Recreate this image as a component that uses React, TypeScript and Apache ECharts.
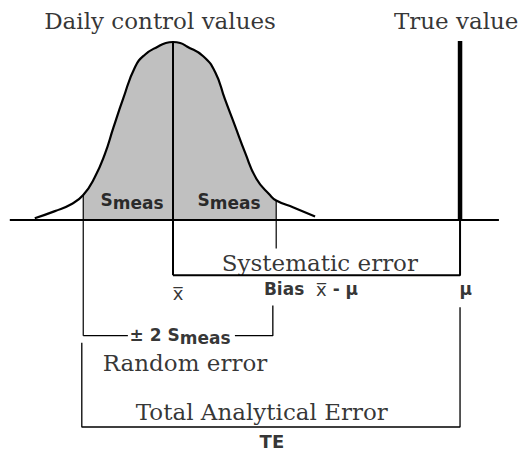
import React, { useEffect, useRef } from "react";
import * as echarts from "echarts";

// Normal curve of daily control values
// x: distance from the mean in s_meas units, y: relative height (peak = 1)
const curveX = [-2.88, -2.46, -2.11, -1.87, -1.63, -1.42, -1.24, -1.04, -0.79, -0.58, -0.31, -0.15, 0, 0.15, 0.29, 0.63, 0.88, 1.08, 1.29, 1.5, 1.74, 2.02, 2.15, 2.51, 2.96];
const curveY = [0.01, 0.05, 0.09, 0.14, 0.24, 0.37, 0.52, 0.68, 0.86, 0.93, 0.975, 0.994, 1.0, 0.994, 0.975, 0.92, 0.83, 0.68, 0.53, 0.38, 0.23, 0.14, 0.11, 0.07, 0.02];

// key x positions (s_meas units)
const meanX = 0;
const lowerX = -1.87;
const upperX = 2.15;
const trueX = 5.98;
const axisStart = -3.4;
const axisEnd = 6.79;
const randLeftEnd = -0.94;
const randRightStart = 1.29;
const randRightX = 2.08;
const totalLeftX = -1.9;

// bracket levels (relative height units, below the axis)
const trueTop = 1.006;
const sysLevel = -0.31;
const upperSdEnd = -0.16;
const randLevel = -0.65;
const randTop = -0.48;
const totalTop = -0.69;
const totalLevel = -1.163;
const totalRightTop = -0.49;

const serifTexts = ["Daily control values", "True value", "Systematic error", "Random error", "Total Analytical Error"];
const serifAt = [[-0.27, 1.12], [5.9, 1.12], [3.06, -0.24], [0.25, -0.805], [1.85, -1.08]];

const X_BAR = "x\u0305";
const sansTexts = ["{s|S}{m|meas}", "{s|S}{m|meas}", "{s|± 2 S}{m|meas}", "{s|Bias  }{x|" + X_BAR + "}{s| - μ}", "{x|" + X_BAR + "}", "{s|μ}", "{t|TE}"];
const sansAt = [[-0.854, 0.11], [1.167, 0.11], [0.146, -0.645], [2.875, -0.385], [0.104, -0.41], [6.1, -0.385], [2.06, -1.242]];

export default function App() {
  const ref = useRef<HTMLDivElement>(null);
  useEffect(() => {
    if (!ref.current) return;
    const chart = echarts.init(ref.current, null, { renderer: "svg" });
    const curveData = curveX.map((x, i) => [x, curveY[i]]);
    const shadeData = curveData.filter((p) => p[0] >= lowerX && p[0] <= upperX);

    const segments: { pts: number[][]; w: number }[] = [
      { pts: [[axisStart, 0], [axisEnd, 0]], w: 2 },
      { pts: [[meanX, 1.0], [meanX, sysLevel]], w: 2 },
      { pts: [[trueX, trueTop], [trueX, 0]], w: 4.5 },
      { pts: [[meanX, sysLevel], [trueX, sysLevel], [trueX, 0]], w: 2 },
      { pts: [[lowerX, curveY[curveX.indexOf(lowerX)]], [lowerX, randLevel]], w: 1.2 },
      { pts: [[upperX, curveY[curveX.indexOf(upperX)]], [upperX, upperSdEnd]], w: 1.2 },
      { pts: [[lowerX, randLevel], [randLeftEnd, randLevel]], w: 1.3 },
      { pts: [[randRightStart, randLevel], [randRightX, randLevel], [randRightX, randTop]], w: 1.3 },
      { pts: [[totalLeftX, totalTop], [totalLeftX, totalLevel], [trueX, totalLevel], [trueX, totalRightTop]], w: 1.3 },
    ];

    const sansStyle = { fontFamily: "DejaVu Sans", fontWeight: "bold", fontSize: 17, color: "#000", verticalAlign: "top", lineHeight: 17 };
    const labelData: any[] = [];
    serifTexts.forEach((t, i) => {
      labelData.push({
        value: serifAt[i],
        label: { formatter: t, fontFamily: "DejaVu Serif", fontSize: 23, lineHeight: 20, color: "#000" },
      });
    });
    sansTexts.forEach((t, i) => {
      labelData.push({
        value: sansAt[i],
        label: {
          formatter: t,
          rich: {
            s: sansStyle,
            m: { ...sansStyle, padding: [3, 0, 0, 0] },
            x: { ...sansStyle, fontWeight: "normal", fontSize: 18 },
            t: { ...sansStyle, fontSize: 18 },
          },
        },
      });
    });

    chart.setOption({
      animation: false,
      grid: { left: 5, right: 11, top: 6.4, bottom: 8.5 },
      xAxis: { type: "value", min: -3.5, max: 7, show: false },
      yAxis: { type: "value", min: -1.25, max: 1.2, show: false },
      series: [
        {
          type: "line", data: shadeData, smooth: 0.5, symbol: "none", silent: true, clip: false,
          lineStyle: { width: 0 }, areaStyle: { color: "#c0c0c0", opacity: 1 }, z: 1,
        },
        ...segments.map((s) => ({
          type: "line", data: s.pts, symbol: "none", silent: true, clip: false,
          lineStyle: { color: "#000", width: s.w, cap: "butt" }, z: 2,
        })),
        {
          type: "line", data: curveData, smooth: 0.5, symbol: "none", silent: true, clip: false,
          lineStyle: { color: "#000", width: 2.2 }, z: 3,
        },
        {
          type: "scatter", data: labelData, symbolSize: 1, silent: true, clip: false,
          itemStyle: { color: "rgba(0,0,0,0)" },
          label: { show: true, position: "inside", align: "center", verticalAlign: "middle" },
          z: 5,
        },
      ],
    });
    return () => chart.dispose();
  }, []);
  return <div ref={ref} style={{ position: "absolute", left: 0, top: 0, width: 520, height: 451 }} />;
}
